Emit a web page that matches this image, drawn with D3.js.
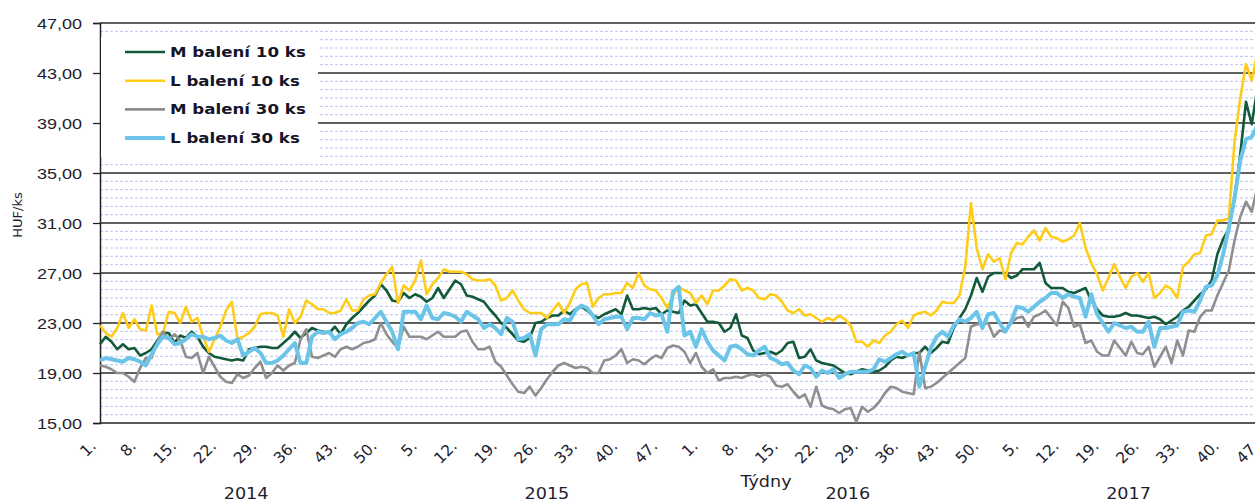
<!DOCTYPE html>
<html>
<head>
<meta charset="utf-8">
<script src="https://cdn.jsdelivr.net/npm/d3@7"></script>
<style>
  body { margin: 0; background: #fff; }
  svg { display: block; font-family: "DejaVu Sans", Verdana, sans-serif; }
</style>
</head>
<body>
<div id="chart"></div>
<script>
// weekly prices HUF/ks, 2014 w1 .. 2017 w46
const years = ["2014", "2015", "2016", "2017"];
const weeks_per_year = [52, 53, 52, 46];
const x_tick_labels = ["1.", "8.", "15.", "22.", "29.", "36.", "43.", "50.",
    "5.", "12.", "19.", "26.", "33.", "40.", "47.",
    "1.", "8.", "15.", "22.", "29.", "36.", "43.", "50.",
    "5.", "12.", "19.", "26.", "33.", "40.", "47."];
const y_ticks = [15, 19, 23, 27, 31, 35, 39, 43, 47];

const series_names = ["M balení 10 ks", "L balení 10 ks", "M balení 30 ks", "L balení 30 ks"];
const series_colors = ["#135a3a", "#ffcc1a", "#8f8f8f", "#6cc5e9"];
const series_widths = [2.6, 2.6, 2.6, 4];

const m10 = [
    21.3, 21.9, 21.5, 20.9, 21.3, 20.9, 21.0, 20.4, 20.6, 20.9, 21.6, 22.2, 22.2, 21.4, 22.0, 21.8, 22.3, 21.9, 21.1, 20.6,
    20.3, 20.2, 20.1, 20.0, 20.1, 20.0, 20.9, 21.0, 21.1, 21.1, 21.0, 21.0, 21.4, 21.8, 22.3, 21.8, 22.2, 22.6, 22.4, 22.3,
    22.2, 22.7, 22.1, 22.9, 23.4, 23.8, 24.3, 24.8, 25.2, 26.1, 25.6, 24.8,
    24.7, 25.4, 25.0, 25.3, 25.1, 24.7, 25.0, 25.8, 25.0, 25.7, 26.4, 26.1, 25.2, 25.1, 24.9, 24.7, 24.1, 23.6, 23.0, 22.6,
    22.1, 21.6, 21.5, 21.8, 23.0, 23.1, 23.4, 23.6, 23.6, 24.0, 23.7, 24.1, 24.3, 24.0, 23.6, 23.4, 23.7, 23.9, 24.1, 23.7,
    25.2, 24.1, 24.1, 24.2, 24.1, 24.2, 23.7, 24.0, 23.9, 23.8, 24.8, 24.4, 24.5,
    23.8, 23.1, 23.1, 23.0, 22.3, 22.6, 23.7, 22.0, 21.8, 20.8, 20.5, 20.6, 20.7, 20.5, 20.8, 21.4, 21.5, 20.2, 20.3, 20.9,
    20.0, 19.8, 19.7, 19.6, 19.3, 19.0, 18.9, 19.1, 19.3, 19.2, 19.1, 19.2, 19.5, 20.0, 20.3, 20.2, 20.4, 20.6, 20.6, 21.1,
    20.6, 21.0, 21.5, 21.4, 22.6, 23.4, 24.1, 25.2, 26.6, 25.5, 26.7, 27.0,
    27.0, 27.0, 26.6, 26.8, 27.3, 27.3, 27.3, 27.8, 26.2, 25.8, 25.8, 25.8, 25.5, 25.4, 25.6, 25.8, 24.8, 24.1, 23.6, 23.5,
    23.5, 23.6, 23.8, 23.6, 23.6, 23.5, 23.4, 23.5, 23.3, 22.9, 23.2, 23.5, 24.0, 24.3, 24.8, 25.3, 25.7, 26.4, 28.5, 29.7,
    30.5, 33.0, 36.5, 40.7, 38.9, 41.8
];

const l10 = [
    22.8, 22.2, 21.9, 22.6, 23.8, 22.6, 23.3, 22.5, 22.4, 24.4, 22.1, 22.2, 23.9, 23.8, 23.0, 24.3, 23.1, 23.4, 21.9, 20.7,
    21.7, 22.7, 24.0, 24.7, 21.7, 21.9, 22.2, 22.7, 23.7, 23.8, 23.8, 23.6, 21.9, 24.1, 23.0, 23.5, 24.8, 24.5, 24.1, 24.1,
    23.8, 23.8, 24.0, 24.9, 24.0, 24.0, 24.9, 25.2, 25.3, 26.2, 26.9, 27.5,
    24.6, 26.0, 25.6, 26.4, 28.0, 25.3, 26.1, 26.6, 27.3, 27.1, 27.1, 27.1, 26.9, 26.5, 26.4, 26.4, 26.5, 26.0, 24.8, 25.0,
    25.6, 24.8, 24.1, 23.8, 23.8, 23.8, 23.4, 24.0, 24.6, 23.8, 24.6, 25.7, 26.1, 26.2, 24.3, 25.0, 25.3, 25.3, 25.4, 25.4,
    26.2, 25.8, 27.0, 26.0, 25.7, 25.6, 25.0, 24.2, 25.2, 25.9, 25.6, 25.4, 24.6,
    25.2, 24.5, 25.6, 25.6, 26.0, 26.5, 26.4, 25.6, 25.8, 25.6, 25.0, 24.9, 25.3, 25.2, 24.7, 24.0, 23.8, 24.1, 23.6, 23.7,
    23.4, 23.1, 23.4, 23.2, 23.6, 23.3, 22.8, 21.5, 21.5, 21.1, 21.6, 21.4, 22.0, 22.3, 22.9, 23.2, 22.6, 23.6, 23.8, 23.9,
    23.6, 24.0, 24.7, 24.6, 24.6, 25.2, 27.5, 32.6, 29.0, 27.3, 28.5, 27.9,
    28.2, 26.5, 28.6, 29.4, 29.3, 29.9, 30.4, 29.6, 30.6, 29.9, 29.8, 29.5, 29.7, 30.0, 31.0, 29.0, 27.8, 26.9, 25.6, 26.6,
    27.7, 26.7, 25.8, 26.7, 27.0, 26.3, 27.0, 25.0, 25.4, 26.0, 25.7, 25.0, 27.5, 27.9, 28.5, 28.6, 30.0, 30.1, 31.2, 31.2,
    31.4, 37.5, 41.0, 43.7, 42.4, 44.6
];

const m30 = [
    19.6, 19.5, 19.3, 19.0, 19.0, 18.7, 18.3, 19.4, 20.2, 20.2, 21.5, 22.3, 21.7, 22.1, 21.6, 20.3, 20.2, 20.6, 19.0, 20.3,
    19.5, 18.7, 18.3, 18.2, 18.9, 18.6, 18.8, 19.4, 19.9, 18.6, 19.0, 19.6, 19.2, 19.6, 19.8, 21.7, 22.5, 20.3, 20.2, 20.4,
    20.6, 20.3, 20.9, 21.1, 20.9, 21.1, 21.4, 21.5, 21.7, 23.0, 22.1, 21.5,
    21.0, 22.7, 21.9, 21.9, 21.9, 21.7, 22.0, 22.3, 21.9, 21.9, 21.9, 22.3, 22.4, 21.5, 20.9, 20.9, 21.1, 19.9, 19.5, 18.8,
    18.1, 17.5, 17.4, 17.9, 17.2, 17.8, 18.5, 19.1, 19.6, 19.8, 19.6, 19.4, 19.5, 19.4, 19.0, 19.0, 20.0, 20.1, 20.4, 20.9,
    19.8, 20.1, 20.0, 19.7, 20.1, 20.4, 20.2, 21.0, 21.2, 21.1, 20.7, 19.8, 20.6,
    19.5, 19.0, 19.3, 18.4, 18.6, 18.6, 18.7, 18.6, 18.8, 18.9, 18.7, 18.9, 18.7, 18.0, 17.9, 18.1, 17.5, 17.0, 17.3, 16.3,
    17.9, 16.4, 16.2, 16.1, 15.8, 16.1, 16.2, 15.1, 16.3, 15.9, 16.2, 16.7, 17.4, 17.9, 17.8, 17.5, 17.4, 17.3, 20.7, 17.8,
    17.9, 18.2, 18.6, 19.0, 19.4, 19.8, 20.2, 22.7, 22.9, 22.9, 23.0, 21.9,
    22.4, 22.3, 23.0, 23.4, 23.5, 22.7, 23.5, 23.7, 24.0, 23.4, 22.8, 24.7, 24.2, 22.7, 22.9, 21.4, 21.6, 20.7, 20.4, 20.4,
    21.6, 21.0, 20.4, 21.5, 20.6, 20.5, 21.1, 19.5, 20.3, 21.1, 19.8, 21.6, 20.4, 22.4, 22.3, 23.5, 24.0, 24.0, 25.2, 26.2,
    27.2, 29.6, 31.5, 32.7, 31.9, 33.9
];

const l30 = [
    20.0, 20.2, 20.1, 20.0, 19.9, 20.2, 20.1, 19.9, 19.6, 20.5, 21.3, 21.9, 21.8, 21.3, 21.4, 21.7, 22.1, 21.9, 21.9, 21.7,
    21.8, 22.0, 21.6, 21.4, 21.7, 20.4, 20.7, 21.0, 20.6, 19.8, 19.8, 20.0, 20.4, 20.9, 21.4, 19.8, 19.8, 21.9, 22.3, 22.2,
    22.3, 21.7, 22.1, 22.3, 22.6, 23.0, 23.1, 22.9, 23.4, 23.9, 23.1, 22.3,
    20.9, 23.9, 23.9, 23.9, 23.3, 24.4, 23.4, 23.3, 23.8, 23.7, 23.5, 23.1, 23.9, 23.6, 23.3, 22.6, 22.9, 22.6, 22.1, 23.4,
    23.1, 21.7, 21.8, 22.1, 20.4, 22.5, 22.9, 22.9, 22.9, 23.3, 23.2, 24.0, 24.4, 24.2, 23.6, 22.9, 23.3, 23.4, 23.5, 23.5,
    22.5, 23.4, 23.4, 23.3, 23.8, 23.6, 23.7, 22.3, 25.5, 25.9, 22.0, 22.3, 21.1,
    22.5, 21.5, 20.8, 20.4, 20.0, 21.1, 21.2, 20.9, 20.5, 20.4, 20.8, 21.1, 20.2, 20.0, 19.7, 19.8, 19.2, 18.9, 19.6, 19.4,
    18.7, 19.2, 19.0, 19.3, 18.6, 18.9, 19.1, 19.1, 19.1, 19.1, 19.3, 20.1, 19.9, 20.2, 20.5, 20.7, 20.4, 20.6, 17.9, 19.5,
    21.0, 21.9, 22.3, 21.9, 22.8, 23.3, 23.1, 23.4, 23.9, 22.6, 23.7, 23.8,
    23.0, 22.3, 23.1, 24.3, 24.2, 23.9, 24.3, 24.7, 25.0, 25.4, 25.4, 25.0, 25.3, 25.1, 25.0, 23.5, 25.3, 23.7, 23.0, 22.3,
    23.0, 22.8, 22.6, 22.7, 22.3, 22.3, 23.1, 21.1, 22.6, 22.6, 22.7, 22.8, 23.9, 24.0, 23.9, 24.8, 25.9, 26.0, 26.8, 28.5,
    30.6, 33.0, 36.0, 37.7, 37.9, 38.8
];

const all_series = [m10, l10, m30, l30];

const width = 1255, height = 502;
const plot = { left: 100, top: 23, bottom: 423, right: 1255 };

const svg = d3.select("#chart").append("svg")
    .attr("width", width)
    .attr("height", height);

const x = d3.scaleLinear().domain([0, 203]).range([plot.left, plot.left + 203 * 5.73]);
const y = d3.scaleLinear().domain([15, 47]).range([plot.bottom, plot.top]);

// minor dashed grid
const minor = d3.range(15, 47.001, 4 / 6).filter(v => Math.abs(((v - 15) / 4) - Math.round((v - 15) / 4)) > 0.01);
svg.append("g").selectAll("line")
    .data(minor)
    .enter().append("line")
    .attr("x1", plot.left).attr("x2", plot.right)
    .attr("y1", d => y(d)).attr("y2", d => y(d))
    .attr("stroke", "#b7c4ee")
    .attr("stroke-width", 1)
    .attr("stroke-dasharray", "3,2");

// major grid
svg.append("g").selectAll("line")
    .data(y_ticks.slice(1))
    .enter().append("line")
    .attr("x1", plot.left).attr("x2", plot.right)
    .attr("y1", d => y(d)).attr("y2", d => y(d))
    .attr("stroke", "#2a2a2a")
    .attr("stroke-width", 1.3);

// y axis
const y_axis = svg.append("g")
    .attr("transform", `translate(${plot.left},0)`)
    .call(d3.axisLeft(y).tickValues(y_ticks).tickSize(7).tickFormat(d => d3.format(".2f")(d).replace(".", ",")));
y_axis.select(".domain").attr("stroke", "#222").attr("stroke-width", 1.5);
y_axis.selectAll(".tick line").attr("stroke", "#222").attr("stroke-width", 1.3);
y_axis.selectAll(".tick text")
    .attr("x", null).attr("dy", null)
    .attr("text-anchor", "end")
    .attr("transform", "translate(-18,5.5) scale(1.2,1)")
    .style("font-size", "15px")
    .attr("fill", "#1e1e2e");

// x axis line
svg.append("line")
    .attr("x1", plot.left).attr("x2", plot.right)
    .attr("y1", plot.bottom).attr("y2", plot.bottom)
    .attr("stroke", "#222").attr("stroke-width", 1.5);

// x tick labels, every 7 weeks
svg.append("g").selectAll("text")
    .data(x_tick_labels)
    .enter().append("text")
    .attr("text-anchor", "end")
    .attr("transform", (d, i) => `translate(${x(i * 7) - 3},447) rotate(-45)`)
    .style("font-size", "15.5px")
    .attr("fill", "#1e1e2e")
    .text(d => d);

// year labels
let start = 0;
const year_pos = weeks_per_year.map(n => {
    const c = start + (n - 1) / 2;
    start += n;
    return c;
});
svg.append("g").selectAll("text")
    .data(years)
    .enter().append("text")
    .attr("text-anchor", "middle")
    .attr("transform", (d, i) => `translate(${x(year_pos[i])},499) scale(1.1,1)`)
    .style("font-size", "16px")
    .attr("fill", "#1e1e2e")
    .text(d => d);

svg.append("text")
    .attr("text-anchor", "middle")
    .attr("transform", "translate(766,487) scale(1.1,1)")
    .style("font-size", "16px")
    .attr("fill", "#1e1e2e")
    .text("Týdny");

svg.append("text")
    .attr("text-anchor", "middle")
    .attr("transform", "translate(22,215) rotate(-90)")
    .style("font-size", "13px")
    .attr("fill", "#1e1e2e")
    .text("HUF/ks");

// lines
const line = d3.line()
    .x((d, i) => x(i))
    .y(d => y(d));

all_series.forEach((s, k) => {
    svg.append("path")
        .datum(s)
        .attr("fill", "none")
        .attr("stroke", series_colors[k])
        .attr("stroke-width", series_widths[k])
        .attr("stroke-linejoin", "round")
        .attr("d", line);
});

// legend
const legend = svg.append("g");
legend.append("rect")
    .attr("x", 101).attr("y", 37)
    .attr("width", 217).attr("height", 120)
    .attr("fill", "#fff");

series_names.forEach((name, k) => {
    const ly = 52 + k * 28.7;
    legend.append("line")
        .attr("x1", 125).attr("x2", 165)
        .attr("y1", ly).attr("y2", ly)
        .attr("stroke", series_colors[k])
        .attr("stroke-width", k == 3 ? 4 : 2.6);
    legend.append("text")
        .attr("transform", `translate(170,${ly + 5}) scale(1.19,1)`)
        .style("font-size", "14px")
        .style("font-weight", "bold")
        .attr("fill", "#15152a")
        .text(name);
});
</script>
</body>
</html>
